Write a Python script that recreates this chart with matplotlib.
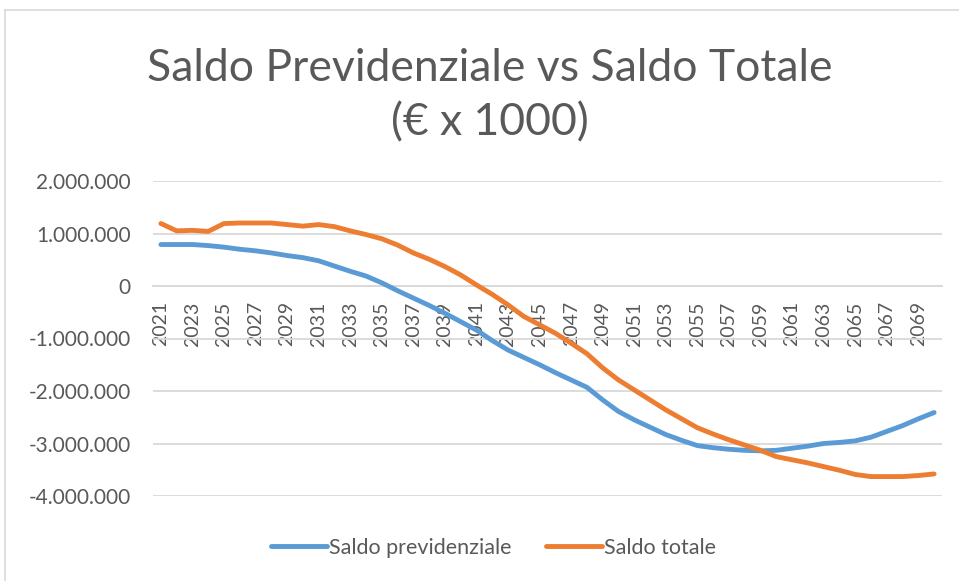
import matplotlib
matplotlib.use("Agg")
import matplotlib.pyplot as plt
import numpy as np
from matplotlib.lines import Line2D
from matplotlib.ticker import FuncFormatter

# values in thousands of euro
years = list(range(2021, 2071))

saldo_previdenziale = [
    790000, 790000, 790000, 770000, 740000, 700000, 670000, 630000, 580000, 540000,
    480000, 380000, 280000, 190000, 60000, -90000, -230000, -370000, -520000, -680000,
    -840000, -1040000, -1220000, -1360000, -1500000, -1650000, -1790000, -1930000, -2170000, -2390000,
    -2550000, -2690000, -2830000, -2940000, -3040000, -3080000, -3110000, -3130000, -3140000, -3130000,
    -3090000, -3050000, -3000000, -2980000, -2950000, -2880000, -2770000, -2660000, -2530000, -2410000,
]

saldo_totale = [
    1190000, 1050000, 1060000, 1040000, 1190000, 1200000, 1200000, 1200000, 1170000, 1140000,
    1170000, 1130000, 1050000, 980000, 900000, 780000, 630000, 510000, 370000, 210000,
    20000, -160000, -360000, -580000, -740000, -900000, -1090000, -1290000, -1560000, -1790000,
    -1980000, -2170000, -2360000, -2530000, -2700000, -2820000, -2930000, -3030000, -3130000, -3250000,
    -3310000, -3370000, -3440000, -3510000, -3590000, -3630000, -3630000, -3630000, -3610000, -3580000,
]

y_ticks = [-4000000, -3000000, -2000000, -1000000, 0, 1000000, 2000000]

blue = "#5B9BD5"
orange = "#ED7D31"
text_col = "#595959"
grid_col = "#D9D9D9"

plt.rcParams['font.family'] = ['Lato', 'DejaVu Sans']

fig = plt.figure(figsize=(9.59, 5.81), dpi=100)
ax = fig.add_axes([153/959, 1-496/581, (942-153)/959, (496-181)/581])

x = np.arange(len(years))
ax.plot(x, saldo_previdenziale, color=blue, lw=3.5, solid_capstyle="round",
        solid_joinstyle="round", label="Saldo previdenziale", zorder=3)
ax.plot(x, saldo_totale, color=orange, lw=3.5, solid_capstyle="round",
        solid_joinstyle="round", label="Saldo totale", zorder=4)

ax.set_xlim(-0.5, len(years) - 0.5)
ax.set_ylim(-4000000, 2000000)

# category axis crossing at zero (set before the labels, it resets the ticks)
for s in ["top", "right", "left"]:
    ax.spines[s].set_visible(False)
ax.spines["bottom"].set_position(("data", 0))
ax.spines["bottom"].set_color(grid_col)
ax.spines["bottom"].set_linewidth(1.3)

ax.set_yticks(y_ticks)
ax.yaxis.set_major_formatter(FuncFormatter(lambda v, p: f"{int(v):,}".replace(",", ".")))
ax.grid(axis="y", color=grid_col, lw=1.3, zorder=0)
ax.set_axisbelow(True)

# labels every 2 years
ax.set_xticks(x[::2])
ax.set_xticklabels([str(y) for y in years[::2]])
ax.tick_params(axis="x", length=0, pad=11, labelsize=14, labelcolor=text_col, labelrotation=90)
ax.tick_params(axis="y", length=0, pad=16, labelsize=15, labelcolor=text_col)
for lab in ax.get_xticklabels():
    lab.set_va("top")
    lab.set_ha("center")

fig.text(0.511, 0.835, "Saldo Previdenziale vs Saldo Totale\n(€ x 1000)",
         ha="center", va="center", fontsize=32, color=text_col, linespacing=1.4)

fig.legend(loc="center", bbox_to_anchor=(493.5/959, 1-548/581), ncol=2, frameon=False,
           fontsize=15.5, handlelength=2.6, handletextpad=0.1, columnspacing=1.6,
           labelcolor=text_col)

# chart border (only top and left visible)
fig.add_artist(Line2D([5/959, 1], [1-10/581, 1-10/581], color=grid_col, lw=1.2, transform=fig.transFigure))
fig.add_artist(Line2D([5/959, 5/959], [0, 1-10/581], color=grid_col, lw=1.2, transform=fig.transFigure))

fig.savefig("out.png", dpi=100)
